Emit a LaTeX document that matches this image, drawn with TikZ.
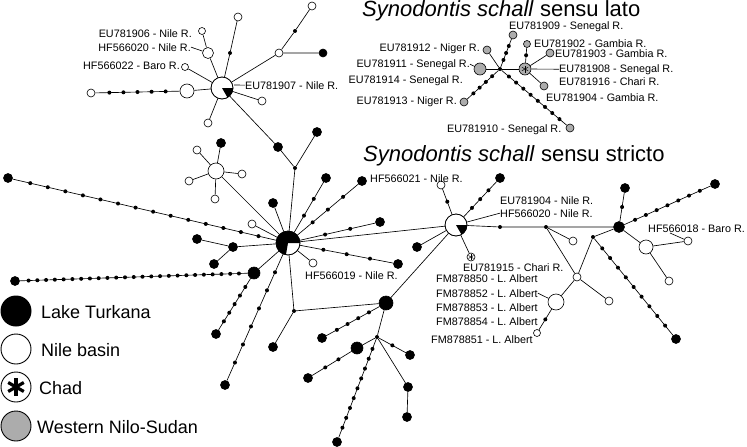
\documentclass[tikz,border=0pt]{standalone}
\usepackage{fontspec}
\setmainfont{Liberation Sans}
\definecolor{gfill}{RGB}{172,172,172}
\tikzset{
  edge/.style={line width=0.65pt},
  dot/.style={circle,fill=black,inner sep=0pt,minimum size=4pt},
  bn/.style={circle,draw=black,fill=black,line width=0.6pt,inner sep=0pt,minimum size=#1},
  wn/.style={circle,draw=black,fill=white,line width=0.6pt,inner sep=0pt,minimum size=#1},
  gn/.style={circle,draw=black,fill=gfill,line width=0.6pt,inner sep=0pt,minimum size=#1},
  lab/.style={font=\fontsize{10.8}{12}\selectfont,inner sep=0pt},
  ttl/.style={font=\fontsize{22}{26}\selectfont,inner sep=0pt,anchor=base west},
  leg/.style={font=\fontsize{18}{21}\selectfont,inner sep=0pt,anchor=base west},
}
\newcommand\chain[3]{\draw[edge] (#1) -- (#2);
  \foreach \k in {1,...,#3}{\pgfmathsetmacro\pp{\k/(#3+1)}
    \path (#1) -- (#2) node[dot,pos=\pp] (#1#2\k) {};}}
\newcommand\astk[3]{\foreach \a in {30,90,150,210,270,330}{\draw[line width=#3] (#1.center) -- ++(\a:#2);}}
\newcommand\pieslice[5]{\fill[#5] (#1.center) -- ++(#3:#2) arc[start angle=#3,end angle=#4,radius=#2] -- cycle;
  \draw[line width=0.6pt] (#1.center) circle[radius=#2];}
\begin{document}
\begin{tikzpicture}[x=1pt,y=-1pt]
\useasboundingbox (0,0) rectangle (747,447);
% ---------- titles
\node[ttl] (T1) at (362,16.5) {\textit{Synodontis schall} sensu lato};
\node[ttl] (T2) at (363,161) {\textit{Synodontis schall} sensu stricto};
% ---------- top-left cluster
\node[wn=22pt] (N1) at (222,88) {};
\pieslice{N1}{11}{0}{60}{black}
\node[dot] (a1d) at (230,53) {};
\node[wn=8pt] (a1) at (238,17) {};
\node[wn=11pt] (a2) at (208,53) {};
\node[wn=7pt] (a3) at (202,31) {};
\node[wn=7pt] (a4) at (185,67) {};
\node[wn=14pt] (a5) at (187,91) {};
\node[wn=8pt] (a6) at (91,93) {};
\node[wn=8pt] (a7) at (208,123) {};
\node[wn=8pt] (a8) at (262,101) {};
\node[wn=8pt] (a9) at (279,53) {};
\node[bn=8pt] (a10) at (323,53) {};
\node[dot] (a11d) at (295,31) {};
\node[wn=8pt] (a11) at (312,6) {};
\node[bn=9pt] (b1) at (278,147) {};
\node[dot] (j1) at (295,168) {};
\node[bn=9pt] (b2) at (317,132) {};
% ---------- N2 cluster
\node[wn=16pt] (N2) at (216,171) {};
\node[bn=9pt] (n2a) at (221,143) {};
\node[wn=8pt] (n2b) at (197,150) {};
\node[wn=8pt] (n2c) at (242,174) {};
\node[wn=8pt] (n2d) at (189,181) {};
\node[wn=8pt] (n2e) at (215,199) {};
% ---------- main hub
\node[wn=24pt] (M) at (288,243) {};
\pieslice{M}{12}{100}{360}{black}
\node[bn=9pt] (m1) at (273,203) {};
\node[wn=8pt] (m2) at (252,224) {};
\node[bn=9pt] (m3) at (326,178) {};
\node[bn=9pt] (m4) at (362,181) {};
\node[bn=9pt] (m5) at (380,222) {};
\node[bn=9pt] (m6) at (398,264) {};
\node[wn=8pt] (m7) at (313,263) {};
\node[bn=9pt] (m8) at (8,178) {};
\node[bn=9pt] (m9) at (233,247) {};
\node[bn=9pt] (m9a) at (197,239) {};
\node[bn=9pt] (m9b) at (214,264) {};
\node[bn=12pt] (m10) at (254,273) {};
\node[bn=9pt] (m10a) at (15,281) {};
\node[bn=9pt] (m10b) at (216,334) {};
\node[bn=9pt] (m11) at (225,385) {};
\node[dot] (J3) at (294,311) {};
\node[bn=9pt] (j3a) at (273,347) {};
% ---------- bottom
\node[bn=14pt] (B) at (386,303) {};
\node[bn=9pt] (b3) at (322,338) {};
\node[dot] (J4) at (377,337) {};
\node[bn=12pt] (b4) at (357,348) {};
\node[bn=9pt] (b5) at (308,378) {};
\node[bn=9pt] (b6) at (410,355) {};
\node[bn=9pt] (b7) at (408,387) {};
\node[bn=9pt] (b8) at (407,417) {};
\node[bn=9pt] (b9) at (337,442) {};
% ---------- right cluster
\node[wn=22pt] (H2) at (456,225) {};
\pieslice{H2}{11}{0}{60}{black}
\node[wn=8pt] (h1) at (441,185) {};
\node[bn=9pt] (h2) at (500,178) {};
\node[wn=8pt] (chad) at (471,257) {};
\astk{chad}{3}{0.5pt}
\node[bn=9pt] (h3) at (417,247) {};
\node[dot] (hd) at (500,227) {};
\node[dot] (J5) at (546,227) {};
\node[bn=11pt] (H3) at (619,227) {};
\node[wn=8pt] (r1) at (573,241) {};
\node[wn=8pt] (J6) at (577,277) {};
\node[dot] (J7) at (593,237) {};
\node[bn=9pt] (r2) at (676,339) {};
\node[wn=8pt] (r3) at (609,301) {};
\node[wn=16pt] (W) at (556,302) {};
\node[wn=7pt] (r4) at (537,333) {};
\node[bn=9pt] (r5) at (625,188) {};
\node[bn=9pt] (r6) at (715,184) {};
\node[wn=14pt] (W2) at (646,247) {};
\node[wn=8pt] (r7) at (688,241) {};
\node[wn=8pt] (r8) at (669,281) {};
% ---------- sensu lato
\node[dot] (X) at (500,69) {};
\node[gn=12pt] (GL) at (480,69) {};
\node[gn=12pt] (G) at (525,69) {};
\astk{G}{3.5}{0.5pt}
\node[gn=8pt] (l1) at (487,50) {};
\node[gn=8pt] (l2) at (513,35) {};
\node[gn=8pt] (l3) at (464,102) {};
\node[gn=8pt] (l4) at (570,128) {};
\node[gn=7pt] (l5) at (527,44) {};
\node[gn=8pt] (l6) at (550,53) {};
\node[gn=8pt] (l7) at (544,86) {};
% ---------- edges top-left
\draw[edge] (N1) -- (a1d) -- (a1);
\draw[edge] (N1) -- (a2) -- (a3);
\draw[edge] (N1) -- (a4);
\draw[edge] (N1) -- (a5);
\chain{a5}{a6}{5}
\draw[edge] (N1) -- (a7);
\draw[edge] (N1) -- (a8);
\draw[edge] (N1) -- (a9) -- (a10);
\draw[edge] (a9) -- (a11d) -- (a11);
\draw[edge] (N1) -- (b1) -- (j1) -- (b2);
\draw[edge] (j1) -- (M);
\foreach \t in {n2a,n2b,n2c,n2d,n2e,M}{\draw[edge] (N2) -- (\t);}
% ---------- edges main hub
\draw[edge] (M) -- (m1);
\draw[edge] (M) -- (m2);
\chain{M}{m3}{2}
\chain{M}{m4}{3}
\chain{M}{m5}{2}
\chain{M}{m6}{3}
\draw[edge] (M) -- (m7);
\chain{M}{m8}{14}
\draw[edge] (M) -- (m9) -- (m9a);
\draw[edge] (m9) -- (m9b);
\draw[edge] (M) -- (m10);
\chain{m10}{m10a}{25}
\chain{m10}{m10b}{5}
\chain{M}{m11}{6}
\draw[edge] (M) -- (J3) -- (j3a);
\draw[edge] (J3) -- (B);
\draw[edge] (M) -- (H2);
% ---------- edges bottom
\chain{B}{b3}{4}
\draw[edge] (B) -- (J4) -- (b4);
\chain{b4}{b5}{2}
\chain{J4}{b6}{1}
\draw[edge] (J4) -- (b7) -- (b8);
\chain{J4}{b9}{9}
\draw[edge] (B) -- (H2);
% ---------- edges right
\draw[edge] (H2) -- (hd) -- (J5) -- (H3);
\chain{H2}{h1}{1}
\chain{H2}{h2}{3}
\draw[edge] (H2) -- (chad);
\draw[edge] (h3) -- (H2);
\draw[edge] (J5) -- (r1);
\draw[edge] (J5) -- (J6) -- (J7) -- (H3);
\chain{J7}{r2}{9}
\draw[edge] (J6) -- (r3);
\draw[edge] (J6) -- (W);
\chain{W}{r4}{1}
\chain{H3}{r5}{1}
\chain{H3}{r6}{7}
\draw[edge] (H3) -- (W2) -- (r7);
\draw[edge] (W2) -- (r8);
% ---------- edges lato
\draw[edge] (GL) -- (X) -- (G);
\draw[edge] (X) -- (l1);
\chain{X}{l2}{3}
\chain{X}{l3}{4}
\chain{X}{l4}{8}
\chain{G}{l5}{1}
\draw[edge] (G) -- (l6);
\draw[edge] (G) -- (l7);
% ---------- labels top-left
\node[lab,anchor=base east] (tA) at (192,37) {EU781906 - Nile R.};
\node[lab,anchor=base east] (tB) at (191,51) {HF566020 - Nile R.};
\node[lab,anchor=base east] (tC) at (180,69) {HF566022 - Baro R.};
\node[lab,anchor=base west] (tD) at (245,89) {EU781907 - Nile R.};
\coordinate (kD) at (234,85);
\draw[edge] (kD) -- (tD.west);
\draw[edge] (tB.east) -- (a2);
% ---------- labels lato
\node[lab,anchor=base west] (u1) at (509,29.5) {EU781909 - Senegal R.};
\node[lab,anchor=base east] (u2) at (480,51) {EU781912 - Niger R.};
\node[lab,anchor=base west] (u3) at (534,47) {EU781902 - Gambia R.};
\node[lab,anchor=base west] (u4) at (555,57) {EU781903 - Gambia R.};
\node[lab,anchor=base east] (u5) at (470,67) {EU781911 - Senegal R.};
\node[lab,anchor=base east] (u6) at (463,83) {EU781914 - Senegal R.};
\node[lab,anchor=base west] (u7) at (559,72) {EU781908 - Senegal R.};
\node[lab,anchor=base west] (u8) at (559,85) {EU781916 - Chari R.};
\node[lab,anchor=base west] (u9) at (546,101) {EU781904 - Gambia R.};
\node[lab,anchor=base east] (u10) at (457,104) {EU781913 - Niger R.};
\node[lab,anchor=base west] (u11) at (447,132) {EU781910 - Senegal R.};
\draw[edge] (u5.east) -- (GL);
\draw[edge] (G) -- (u7.west);
% ---------- labels stricto
\node[lab,anchor=base west] (s1) at (370,182) {HF566021 - Nile R.};
\node[lab,anchor=base west] (s2) at (305,279) {HF566019 - Nile R.};
\node[lab,anchor=base west] (s3) at (500,204) {EU781904 - Nile R.};
\node[lab,anchor=base west] (s4) at (500,217) {HF566020 - Nile R.};
\node[lab,anchor=base west] (s5) at (463,271) {EU781915 - Chari R.};
\node[lab,anchor=base west] (s6) at (436,282) {FM878850 - L. Albert};
\node[lab,anchor=base west] (s7) at (436,297) {FM878852 - L. Albert};
\node[lab,anchor=base west] (s8) at (436,311) {FM878853 - L. Albert};
\node[lab,anchor=base west] (s9) at (436,325) {FM878854 - L. Albert};
\node[lab,anchor=base west] (s10) at (431,343) {FM878851 - L. Albert};
\node[lab,anchor=base west] (s11) at (648,232) {HF566018 - Baro R.};
\draw[edge] (H2) -- (s4.west);
\draw[edge] (s7.east) -- (W);
\coordinate (k18) at (670,233);
\draw[edge] (k18) -- (r7);
% ---------- legend
\node[circle,fill=black,inner sep=0pt,minimum size=31pt] (L1) at (16,311) {};
\node[circle,draw=black,fill=white,line width=0.9pt,inner sep=0pt,minimum size=30pt] (L2) at (16,349) {};
\node[circle,draw=black,fill=white,line width=0.9pt,inner sep=0pt,minimum size=30pt] (L3) at (16,387) {};
\astk{L3}{9}{3.2pt}
\node[circle,draw=black,fill=gfill,line width=0.9pt,inner sep=0pt,minimum size=30pt] (L4) at (16,426) {};
\node[leg] (lt1) at (41,318) {Lake Turkana};
\node[leg] (lt2) at (41,356) {Nile basin};
\node[leg] (lt3) at (39,394) {Chad};
\node[leg] (lt4) at (37,433) {Western Nilo-Sudan};
\end{tikzpicture}
\end{document}
